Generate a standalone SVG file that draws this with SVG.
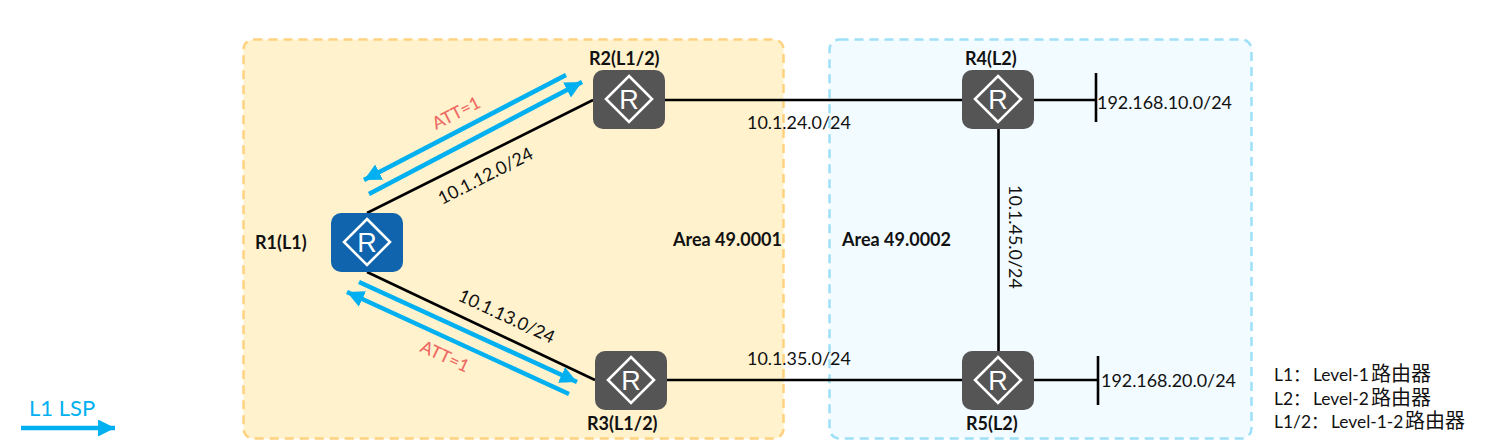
<svg xmlns="http://www.w3.org/2000/svg" width="1490" height="445" viewBox="0 0 1490 445">
<style>
text{font-family:"Lato","Noto Sans CJK SC",sans-serif;fill:#111}
.b{font-weight:700;font-size:18px}
.n{font-size:17.9px}
.att{font-size:17.4px;fill:#EE6A64;font-weight:500}
.leg{font-size:17.4px}
.cjk{font-size:20px}
.box{stroke:none}
.dia{fill:none;stroke:#fff;stroke-width:2.6}
.r{font-family:"Liberation Sans",sans-serif;font-size:27px;fill:#fff;text-anchor:middle}
.l{stroke:#000;stroke-width:2.6;fill:none}
.a{stroke:#00B0F0;stroke-width:4.500;fill:none;marker-end:url(#h)}
</style>
<defs>
<marker id="h" markerUnits="userSpaceOnUse" markerWidth="20" markerHeight="18" refX="17" refY="8.500" orient="auto"><path d="M0 0L17 8.500L0 17Z" fill="#00B0F0"/></marker>
<g id="router"><path class="dia" d="M0-23L23 0L0 23L-23 0Z"/><text class="r" x="0" y="10">R</text></g>
</defs>
<g id="areas">
<rect id="area1" x="243.500" y="39.500" width="540" height="399" rx="10" fill="#FFF2CC" stroke="#FFD27F" stroke-width="2.500" stroke-dasharray="9 6"/>
<rect id="area2" x="829.500" y="39.500" width="422" height="399" rx="10" fill="#F2FBFF" stroke="#9EE0F7" stroke-width="2.500" stroke-dasharray="9 6"/>
<text class="b" x="673" y="246">Area 49.0001</text>
<text class="b" x="842" y="246">Area 49.0002</text>
</g>
<g id="connectors">
<path class="l" d="M367 213L593 100"/>
<path class="l" d="M367 272L595 380"/>
<path class="l" d="M665 100H962"/>
<path class="l" d="M667 380H962"/>
<path class="l" d="M998.500 129V351"/>
<path class="l" d="M1034 100H1096"/>
<path class="l" d="M1096 73V122"/>
<path class="l" d="M1034 380H1098"/>
<path class="l" d="M1098 356V405"/>
<path class="a" d="M566 75L364 180"/>
<path class="a" d="M369 194L582 82"/>
<path class="a" d="M359 282L577 382"/>
<path class="a" d="M569 394L347 292"/>
<path class="a" d="M21 428H115"/>
</g>
<g id="R1"><rect class="box" x="331" y="213" width="72" height="59" rx="10" fill="#1063AD"/><use href="#router" x="367" y="242"/><text class="b" x="255" y="249">R1(L1)</text></g>
<g id="R2"><rect class="box" x="593" y="70" width="72" height="59" rx="10" fill="#555"/><use href="#router" x="629" y="99"/><text class="b" x="589" y="65">R2(L1/2)</text></g>
<g id="R3"><rect class="box" x="595" y="351" width="72" height="59" rx="10" fill="#555"/><use href="#router" x="631" y="380"/><text class="b" x="587" y="430">R3(L1/2)</text></g>
<g id="R4"><rect class="box" x="962" y="70" width="72" height="59" rx="10" fill="#555"/><use href="#router" x="998" y="99"/><text class="b" x="965" y="65">R4(L2)</text></g>
<g id="R5"><rect class="box" x="962" y="351" width="72" height="59" rx="10" fill="#555"/><use href="#router" x="998" y="380"/><text class="b" x="966" y="430">R5(L2)</text></g>
<g id="labels">
<text class="att" transform="translate(436 130) rotate(-27)">ATT=1</text>
<text class="att" transform="translate(419 351) rotate(25)">ATT=1</text>
<text class="n" transform="translate(442 205) rotate(-27)">10.1.12.0/24</text>
<text class="n" transform="translate(457 300) rotate(25)">10.1.13.0/24</text>
<text class="n" x="747" y="129">10.1.24.0/24</text>
<text class="n" x="747" y="365">10.1.35.0/24</text>
<text class="n" transform="translate(1009 185) rotate(90)">10.1.45.0/24</text>
<text class="n" x="1097" y="109">192.168.10.0/24</text>
<text class="n" x="1101" y="387">192.168.20.0/24</text>
<text class="leg" x="1274" y="381">L1：<tspan x="1313">Level-1</tspan><tspan class="cjk" x="1371">路由器</tspan></text>
<text class="leg" x="1274" y="405">L2：<tspan x="1313">Level-2</tspan><tspan class="cjk" x="1371">路由器</tspan></text>
<text class="leg" x="1274" y="428">L1/2：<tspan x="1331">Level-1-2</tspan><tspan class="cjk" x="1405">路由器</tspan></text>
<text x="29" y="416" font-size="22" style="fill:#00B0F0">L1 LSP</text>
</g>
</svg>
